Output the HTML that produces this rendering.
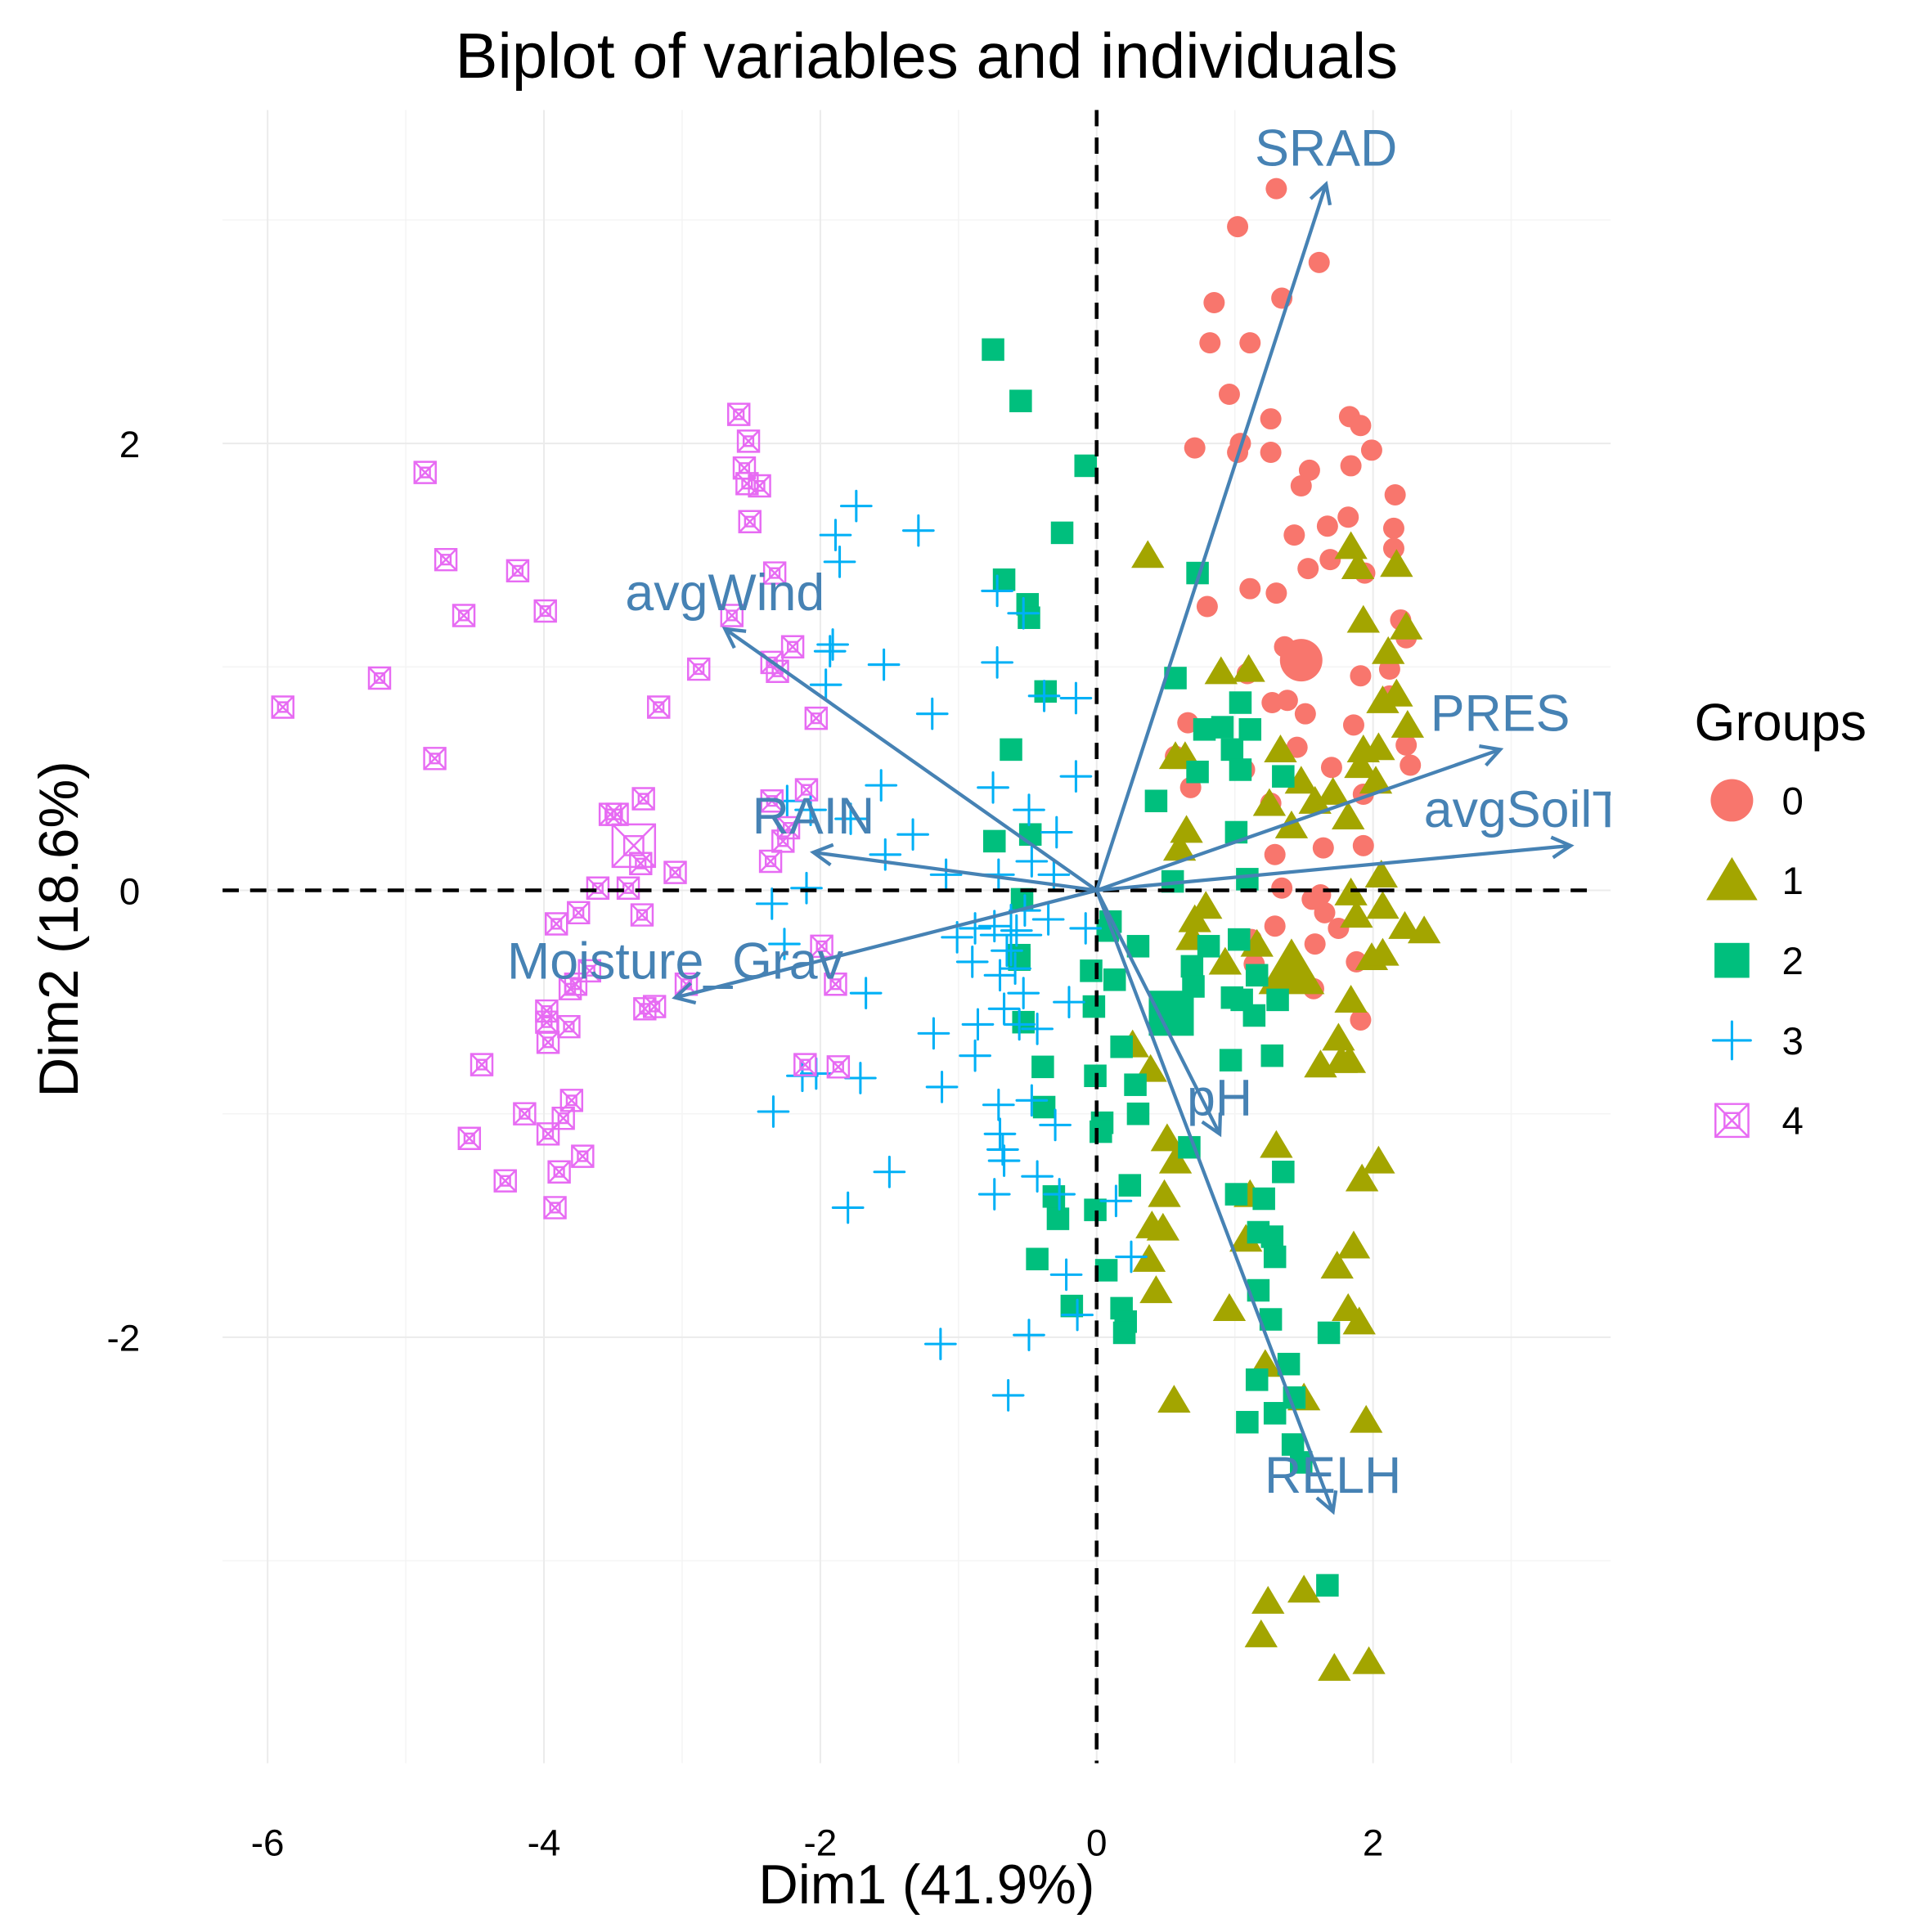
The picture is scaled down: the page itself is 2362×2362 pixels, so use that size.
<!DOCTYPE html>
<html><head><meta charset="utf-8"><style>
html,body{margin:0;padding:0;background:#fff;}
svg{display:block;font-family:"Liberation Sans",Arial,sans-serif;}
</style></head><body>
<svg id="chart" width="2362" height="2362" viewBox="0 0 1545 1545" xmlns="http://www.w3.org/2000/svg">
<defs><clipPath id="panelClip"><rect x="178" y="88" width="1110" height="1322"/></clipPath></defs>
<rect width="1545" height="1545" fill="#fff"/>
<text x="741" y="62" font-size="51" text-anchor="middle" fill="#000">Biplot of variables and individuals</text>
<g id="grid"></g>
<g id="points" clip-path="url(#panelClip)"></g>
<g id="refs"></g>
<g id="arrows" clip-path="url(#panelClip)"></g>
<g id="axes"></g>
<text x="741" y="1522" font-size="44" text-anchor="middle">Dim1 (41.9%)</text>
<text transform="translate(62,743) rotate(-90)" font-size="44" text-anchor="middle">Dim2 (18.6%)</text>
<g id="legend"></g>
</svg>
<script>
const xTicks=[-6,-4,-2,0,2];
const yTicks=[-2,0,2];
const xMinor=[-5,-3,-1,1,3];
const yMinor=[-3,-1,1,3];
const groupLabels=["0","1","2","3","4"];
const groupColors=["#F8766D","#A3A500","#00BF7D","#00B0F6","#E76BF3"];
const g0x=[1.30,1.02,1.61,0.85,1.34,0.82,1.11,0.96,1.26,1.04,0.71,1.02,1.26,1.83,1.91,1.99,1.54,1.84,1.48,1.82,1.67,1.43,2.16,2.15,2.15,1.53,1.69,1.94,1.11,1.30,0.80,2.20,1.36,2.12,1.91,2.24,1.09,1.27,1.38,1.51,2.12,1.86,2.24,2.27,1.45,0.66,0.57,0.68,1.07,1.26,1.70,1.93,1.29,1.64,1.93,1.34,1.56,1.62,1.29,1.65,1.75,1.12,1.14,1.88,1.57,1.91,1.58];
const g0y=[3.14,2.97,2.81,2.63,2.65,2.45,2.45,2.22,2.11,2.00,1.98,1.96,1.96,2.12,2.08,1.97,1.88,1.90,1.81,1.67,1.63,1.59,1.77,1.62,1.53,1.44,1.48,1.42,1.35,1.33,1.27,1.21,1.09,0.99,0.96,1.13,0.97,0.84,0.85,0.79,0.87,0.74,0.65,0.56,0.64,0.75,0.60,0.46,0.54,0.39,0.55,0.43,0.16,0.19,0.20,0.01,-0.04,-0.02,-0.16,-0.10,-0.17,-0.22,-0.33,-0.32,-0.44,-0.58,-0.24];
const g1x=[0.37,1.84,1.89,2.17,1.93,2.24,2.11,2.17,2.07,0.90,1.10,2.25,1.93,2.04,1.91,2.02,0.64,0.57,1.33,1.48,1.25,1.58,1.71,1.82,1.41,0.65,0.60,2.06,1.84,2.07,1.88,2.23,2.37,1.99,2.07,1.84,1.75,1.77,1.62,1.83,0.71,0.79,0.69,1.16,0.93,0.26,0.39,0.51,0.57,0.49,0.38,1.30,2.04,1.92,1.11,0.40,0.48,1.08,1.86,1.74,1.82,1.90,0.96,0.43,0.56,1.22,1.50,1.95,1.24,1.50,1.19,1.72,1.97];
const g1y=[1.50,1.54,1.45,1.46,1.21,1.18,1.07,0.88,0.85,0.98,0.99,0.74,0.63,0.64,0.56,0.49,0.60,0.60,0.63,0.49,0.39,0.40,0.44,0.33,0.29,0.27,0.19,0.07,-0.01,-0.07,-0.11,-0.16,-0.18,-0.30,-0.28,-0.49,-0.66,-0.76,-0.78,-0.76,-0.13,-0.07,-0.21,-0.24,-0.32,-0.69,-0.80,-1.11,-1.21,-1.36,-1.65,-1.14,-1.21,-1.29,-1.36,-1.50,-1.51,-1.56,-1.59,-1.68,-1.87,-1.93,-1.87,-1.79,-2.28,-2.12,-2.27,-2.37,-3.18,-3.13,-3.33,-3.48,-3.45];
const g2x=[-0.75,-0.55,-0.08,-0.25,-0.67,-0.50,-0.49,0.73,0.57,-0.37,-0.62,1.04,0.78,0.91,1.11,0.98,0.73,1.35,1.04,0.43,1.01,-0.48,-0.74,0.55,1.09,-0.54,0.10,0.08,0.30,-0.56,0.69,1.03,0.81,0.70,0.98,1.05,1.31,1.14,1.16,-0.56,-0.04,0.13,-0.53,-0.39,-0.02,0.18,0.97,1.27,-0.01,0.28,0.30,-0.38,0.04,0.03,0.67,1.35,1.01,1.21,0.24,-0.31,-0.01,-0.28,1.17,1.27,1.29,1.17,1.26,-0.43,0.07,-0.18,0.18,0.21,0.20,1.68,1.39,1.16,1.43,1.29,1.09,1.42,1.48,1.67];
const g2y=[2.42,2.19,1.90,1.60,1.39,1.28,1.22,1.42,0.95,0.89,0.63,0.84,0.72,0.73,0.72,0.63,0.53,0.51,0.54,0.40,0.26,0.25,0.22,0.04,0.05,-0.04,-0.14,-0.18,-0.25,-0.29,-0.34,-0.22,-0.25,-0.43,-0.48,-0.49,-0.49,-0.56,-0.38,-0.31,-0.36,-0.40,-0.59,-0.79,-0.52,-0.70,-0.76,-0.74,-0.83,-0.87,-1.00,-0.97,-1.04,-1.08,-1.15,-1.26,-1.36,-1.38,-1.32,-1.37,-1.43,-1.47,-1.53,-1.55,-1.64,-1.79,-1.92,-1.65,-1.70,-1.86,-1.87,-1.93,-1.98,-1.98,-2.12,-2.19,-2.27,-2.34,-2.38,-2.48,-2.56,-3.11];
const g3x=[-1.74,-1.89,-1.29,-1.86,-0.72,-0.53,-1.91,-1.93,-1.54,-1.96,-0.72,-0.38,-0.15,-1.19,-0.75,-0.49,-0.15,-1.56,-2.24,-2.07,-1.78,-1.33,-1.53,-0.29,-0.47,-0.31,-0.71,-1.09,-2.10,-0.52,-0.74,-1.01,-0.88,-0.90,-0.58,-0.65,-0.35,-0.59,-0.08,-0.70,-0.53,-1.67,-0.20,-0.67,-0.56,-1.18,-0.86,-0.43,-0.88,-1.71,-2.03,-2.13,-1.12,-0.71,-0.30,-0.47,-2.34,-0.70,-0.68,-0.67,-0.43,-1.50,-1.80,-0.74,-0.27,0.14,-0.22,0.25,-0.14,-0.49,-1.13,-0.64,-2.35,-2.26];
const g3y=[1.72,1.59,1.61,1.47,1.34,1.24,1.10,1.07,1.01,0.92,1.02,0.87,0.86,0.79,0.46,0.36,0.51,0.47,0.40,0.36,0.32,0.25,0.16,0.26,0.13,0.07,0.07,0.07,0.01,-0.09,-0.16,-0.21,-0.17,-0.32,-0.18,-0.27,-0.13,-0.35,-0.17,-0.38,-0.46,-0.46,-0.50,-0.53,-0.60,-0.64,-0.60,-0.62,-0.74,-0.84,-0.82,-0.83,-0.88,-0.96,-1.05,-0.94,-0.99,-1.09,-1.16,-1.21,-1.28,-1.26,-1.42,-1.36,-1.36,-1.39,-1.72,-1.64,-1.90,-1.99,-2.03,-2.26,-0.06,-0.24];
const g4x=[-2.59,-2.52,-2.55,-2.44,-2.53,-2.51,-4.86,-4.71,-4.58,-4.19,-3.99,-2.33,-2.64,-2.20,-2.35,-2.31,-2.88,-5.19,-5.89,-4.79,-3.17,-2.03,-2.10,-3.28,-3.52,-3.47,-2.35,-2.23,-2.27,-3.30,-3.05,-2.36,-3.61,-3.39,-3.75,-3.29,-3.91,-1.99,-3.67,-3.81,-3.77,-1.89,-2.97,-3.27,-3.20,-3.98,-3.98,-3.82,-3.97,-4.45,-2.11,-1.87,-3.80,-4.14,-3.86,-3.97,-4.54,-3.72,-3.89,-4.28,-3.92];
const g4y=[2.13,2.01,1.89,1.81,1.82,1.65,1.87,1.48,1.23,1.43,1.25,1.42,1.23,1.09,1.02,0.98,0.99,0.95,0.82,0.59,0.82,0.77,0.45,0.41,0.34,0.34,0.40,0.28,0.22,0.12,0.08,0.13,0.01,0.01,-0.10,-0.11,-0.15,-0.25,-0.36,-0.44,-0.42,-0.42,-0.42,-0.53,-0.52,-0.54,-0.59,-0.61,-0.68,-0.78,-0.78,-0.79,-0.94,-1.00,-1.02,-1.09,-1.11,-1.19,-1.26,-1.30,-1.42];
const centroidX=[1.48,1.41,0.54,-0.62,-3.35];
const centroidY=[1.03,-0.35,-0.55,-0.20,0.20];
const varNames=["SRAD","PRES","avgSoilTemp","avgWind","RAIN","Moisture_Grav","pH","RELH"];
const varX=[1.66,2.92,3.43,-2.69,-2.05,-3.05,0.89,1.71];
const varY=[3.16,0.63,0.20,1.17,0.17,-0.48,-1.09,-2.78];

const NS="http://www.w3.org/2000/svg";
const X0=877,XS=110.5,Y0=712,YS=178.7,PL=178,PR=1288,PT=88,PB=1410;
function sx(v){return X0+v*XS;}
function sy(v){return Y0-v*YS;}
function mk(tag,attrs,parent){const e=document.createElementNS(NS,tag);for(const k in attrs)e.setAttribute(k,attrs[k]);parent.appendChild(e);return e;}

const grid=document.getElementById('grid');
xMinor.forEach(v=>{const l=mk('line',{x1:sx(v),x2:sx(v),y1:PT,y2:PB,stroke:'#f4f4f4','stroke-width':1},grid);

});
yMinor.forEach(v=>{const l=mk('line',{x1:PL,x2:PR,y1:sy(v),y2:sy(v),stroke:'#f4f4f4','stroke-width':1},grid);

});
xTicks.forEach(v=>{const l=mk('line',{x1:sx(v),x2:sx(v),y1:PT,y2:PB,stroke:'#ebebeb','stroke-width':1.3},grid);

});
yTicks.forEach(v=>{const l=mk('line',{x1:PL,x2:PR,y1:sy(v),y2:sy(v),stroke:'#ebebeb','stroke-width':1.3},grid);

});

const axes=document.getElementById('axes');
xTicks.forEach(v=>{const t=mk('text',{x:sx(v),y:1484,'font-size':30,'text-anchor':'middle',fill:'#000'},axes);t.textContent=String(v);

});
yTicks.forEach(v=>{const t=mk('text',{x:112,y:sy(v)+11,'font-size':30,'text-anchor':'end',fill:'#000'},axes);t.textContent=String(v);

});

function drawShape(parent,g,cx,cy,s){
  const c=groupColors[g];let e;
  if(g===0){e=mk('circle',{cx:cx,cy:cy,r:8.5*s,fill:c},parent);}
  else if(g===1){const h=12*s;e=mk('polygon',{points:`${cx},${cy-h} ${cx-h*1.1},${cy+h*0.85} ${cx+h*1.1},${cy+h*0.85}`,fill:c},parent);}
  else if(g===2){const h=9*s;e=mk('rect',{x:cx-h,y:cy-h,width:2*h,height:2*h,fill:c},parent);}
  else if(g===3){const h=12*s;e=mk('path',{d:`M${cx-h},${cy}H${cx+h}M${cx},${cy-h}V${cy+h}`,stroke:c,'stroke-width':2,fill:'none','stroke-linecap':'round'},parent);}
  else {const h=8.5*s,i=h*0.45;e=mk('path',{d:`M${cx-h},${cy-h}h${2*h}v${2*h}h${-2*h}z M${cx-i},${cy-i}h${2*i}v${2*i}h${-2*i}z M${cx-h},${cy-h}L${cx+h},${cy+h}M${cx+h},${cy-h}L${cx-h},${cy+h}`,stroke:c,'stroke-width':1.6,fill:'none'},parent);}
  return e;
}
const pts=document.getElementById('points');
const gx=[g0x,g1x,g2x,g3x,g4x],gy=[g0y,g1y,g2y,g3y,g4y];
for(let g=0;g<5;g++){
  for(let i=0;i<gx[g].length;i++){
    const e=drawShape(pts,g,sx(gx[g][i]),sy(gy[g][i]),1);
    
    
  }
  const ce=drawShape(pts,g,sx(centroidX[g]),sy(centroidY[g]),2);
  
  
}

const refs=document.getElementById('refs');
const hl=mk('line',{x1:PL,x2:PR-14,y1:sy(0),y2:sy(0),stroke:'#000','stroke-width':3,'stroke-dasharray':'13 9'},refs);


const vl=mk('line',{x1:sx(0),x2:sx(0),y1:PT,y2:PB,stroke:'#000','stroke-width':3,'stroke-dasharray':'13 9'},refs);



const arr=document.getElementById('arrows');
for(let i=0;i<varNames.length;i++){
  const x1=sx(0),y1=sy(0),x2=sx(varX[i]),y2=sy(varY[i]);
  const a=Math.atan2(y2-y1,x2-x1),L=17,w=0.5;
  const p=`M${x1},${y1}L${x2},${y2}M${x2-L*Math.cos(a-w)},${y2-L*Math.sin(a-w)}L${x2},${y2}L${x2-L*Math.cos(a+w)},${y2-L*Math.sin(a+w)}`;
  const e=mk('path',{d:p,stroke:'#4682B4','stroke-width':2.8,fill:'none','stroke-linejoin':'miter'},arr);
  
  
  const t=mk('text',{x:x2,y:y2-15,'font-size':41,'text-anchor':'middle',fill:'#4682B4'},arr);
  t.textContent=varNames[i];
  
  
}

const leg=document.getElementById('legend');
const lt=mk('text',{x:1355,y:592,'font-size':42,fill:'#000'},leg);lt.textContent='Groups';


for(let g=0;g<5;g++){
  const cy=640+g*64;
  const e=drawShape(leg,g,1385,cy,g===3?1.25:(g===1?1.55:(g===0?2:1.55)));
  
  
  const t=mk('text',{x:1425,y:cy+11,'font-size':31,fill:'#000'},leg);t.textContent=groupLabels[g];
  
  
}
</script>
</body></html>
